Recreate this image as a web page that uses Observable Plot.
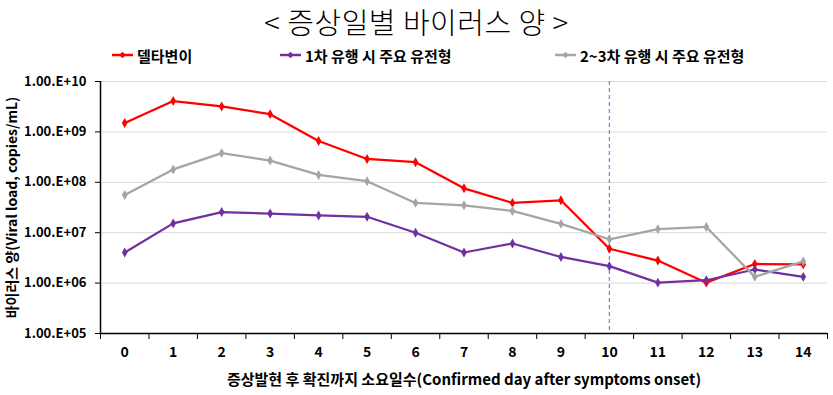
<!DOCTYPE html>
<html>
<head>
<meta charset="utf-8">
<script src="https://cdn.jsdelivr.net/npm/d3@7"></script>
<script src="https://cdn.jsdelivr.net/npm/@observablehq/plot@0.6"></script>
<style>
  body { margin: 0; background: #fff; font-family: "Noto Sans CJK KR", "Noto Sans", sans-serif; }
  #wrap { width: 833px; height: 395px; position: relative; overflow: hidden; background: #fff; }
  #title { position: absolute; left: 0; top: 0; width: 833px; height: 42px; line-height: 42px; text-align: center; font-size: 29px; font-weight: 300; color: #000; letter-spacing: 0.5px; }
  #legend { position: absolute; left: 0; top: 43px; width: 833px; height: 24px; }
  .item { position: absolute; top: 0; height: 24px; display: flex; align-items: center; font-size: 15px; font-weight: bold; color: #000; white-space: nowrap; }
  .item svg { margin-right: 4px; }
  #chart { position: absolute; left: 0; top: 69px; }
</style>
</head>
<body>
<div id="wrap">
  <div id="title"></div>
  <div id="legend"></div>
  <div id="chart"></div>
</div>
<script>
// ---- data ----
const titleText = "< 증상일별 바이러스 양 >";
const days = [0, 1, 2, 3, 4, 5, 6, 7, 8, 9, 10, 11, 12, 13, 14];
const seriesNames = ["델타변이", "1차 유행 시 주요 유전형", "2~3차 유행 시 주요 유전형"];
const deltaValues  = [1.5e9, 4.1e9, 3.2e9, 2.25e9, 6.6e8, 2.9e8, 2.5e8, 7.6e7, 3.9e7, 4.4e7, 4.8e6, 2.8e6, 1.02e6, 2.4e6, 2.35e6];
const firstValues  = [4.05e6, 1.53e7, 2.57e7, 2.4e7, 2.2e7, 2.07e7, 1.0e7, 4.05e6, 6.1e6, 3.3e6, 2.17e6, 1.02e6, 1.14e6, 1.86e6, 1.33e6];
const secondValues = [5.6e7, 1.8e8, 3.8e8, 2.7e8, 1.4e8, 1.05e8, 3.9e7, 3.5e7, 2.7e7, 1.5e7, 7.4e6, 1.18e7, 1.3e7, 1.33e6, 2.7e6];
const cutoffDay = [10];
const yTicks = [1e5, 1e6, 1e7, 1e8, 1e9, 1e10];
const yTickLabels = ["1.00.E+05", "1.00.E+06", "1.00.E+07", "1.00.E+08", "1.00.E+09", "1.00.E+10"];
const xTitle = "증상발현 후 확진까지 소요일수(Confirmed day after symptoms onset)";
const yTitle = "바이러스 양(Viral load, copies/mL)";

// ---- styles ----
const colors = ["#FF0000", "#7030A0", "#A5A5A5"];
const font = "'Noto Sans CJK KR', 'Noto Sans', sans-serif";

// ---- build table ----
const seriesValues = [deltaValues, firstValues, secondValues];
const rows = [];
seriesValues.forEach((vals, s) => {
  vals.forEach((v, i) => rows.push({ day: days[i], value: v, series: seriesNames[s] }));
});
const boundaries = [days[0] - 0.5, ...days.map(d => d + 0.5)];

// title
document.getElementById("title").textContent = titleText;

// legend
const legendLeft = [112, 280, 555];
const legend = document.getElementById("legend");
seriesNames.forEach((name, i) => {
  const item = document.createElement("div");
  item.className = "item";
  item.style.left = legendLeft[i] + "px";
  item.innerHTML = `<svg width="21" height="10" viewBox="0 0 21 10"><line x1="0" y1="5" x2="21" y2="5" stroke="${colors[i]}" stroke-width="2.5"/><path d="M10.5 1.8 L13.7 5 L10.5 8.2 L7.3 5 Z" fill="${colors[i]}"/></svg><span></span>`;
  item.querySelector("span").textContent = name;
  legend.appendChild(item);
});

const chart = Plot.plot({
  width: 833,
  height: 326,
  marginLeft: 100,
  marginRight: 6,
  marginTop: 12,
  marginBottom: 62,
  style: { fontFamily: font, fontSize: "13px", fontWeight: "bold", color: "#000", background: "#fff", overflow: "visible" },
  x: { type: "linear", domain: [boundaries[0], boundaries[boundaries.length - 1]] },
  y: { type: "log", domain: [yTicks[0], yTicks[yTicks.length - 1]] },
  color: { domain: seriesNames, range: colors },
  marks: [
    Plot.gridY(yTicks, { stroke: "#D9D9D9", strokeOpacity: 1, strokeWidth: 1 }),
    Plot.ruleX(cutoffDay, { stroke: "#5B9BD5", strokeWidth: 1.3, strokeDasharray: "4,3" }),
    Plot.line(rows, { x: "day", y: "value", z: "series", stroke: "series", strokeWidth: 2.25 }),
    Plot.dot(rows, { x: "day", y: "value", fill: "series", symbol: "diamond", r: 3 }),
    Plot.ruleY([yTicks[0]], { stroke: "#000", strokeWidth: 1.5 }),
    Plot.ruleX([boundaries[0]], { stroke: "#000", strokeWidth: 1.5 }),
    Plot.axisY(yTicks, { tickSize: 5, tickPadding: 9, label: null, fontSize: 13, fontWeight: "bold",
      tickFormat: d => yTickLabels[yTicks.indexOf(d)] }),
    Plot.axisX(boundaries, { tickSize: 6, label: null, tickFormat: () => "" }),
    Plot.axisX(days, { tickSize: 0, tickPadding: 14, label: null, fontSize: 14, fontWeight: "bold", tickFormat: d => String(d) }),
    Plot.text([xTitle], { frameAnchor: "bottom", dy: 47, textAnchor: "middle", lineAnchor: "middle", fontSize: 15, fontWeight: "bold", fill: "#000" }),
    Plot.text([yTitle], { frameAnchor: "left", dx: -88, rotate: -90, textAnchor: "middle", lineAnchor: "middle", fontSize: 14, fontWeight: "bold", fill: "#000" })
  ]
});
document.getElementById("chart").appendChild(chart);
</script>
</body>
</html>
